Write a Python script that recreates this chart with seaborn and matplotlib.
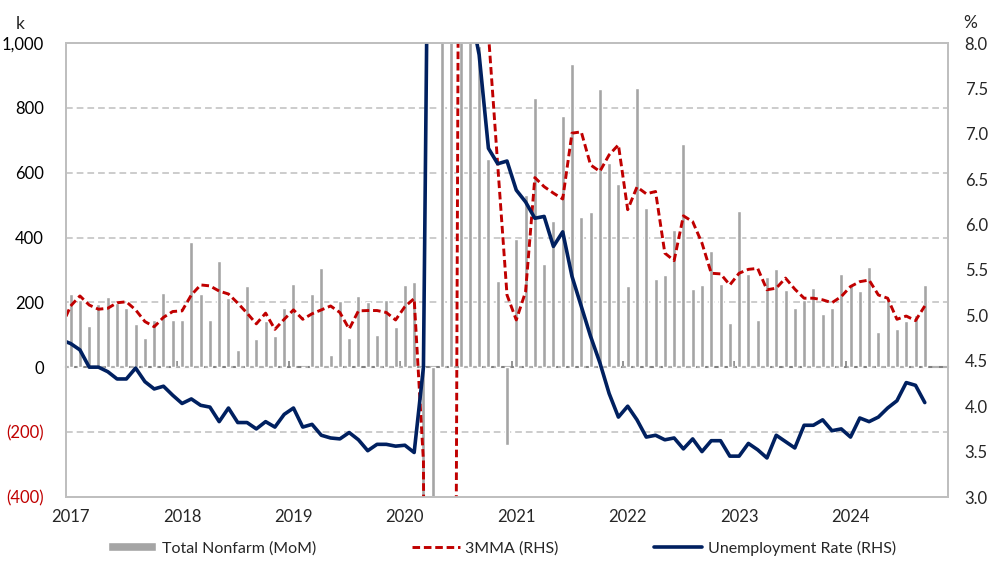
import matplotlib
matplotlib.use("Agg")
import numpy as np
import pandas as pd
import matplotlib.pyplot as plt
import seaborn as sns

# monthly data, Jan 2017 - Sep 2024 (bars) ; lines start one month earlier (Dec 2016)
nfp = [226, 208, 127, 195, 217, 199, 183, 134, 90, 146, 229, 146,
       146, 387, 226, 146, 328, 214, 53, 251, 87, 143, 97, 183,
       257, 1, 226, 307, 38, 205, 90, 220, 202, 100, 208, 124,
       254, 263, -1373, -20500, 2800, 4500, 1700, 1500, 990, 643, 266, -240,
       396, 530, 830, 320, 451, 776, 936, 464, 479, 858, 630, 566,
       251, 861, 492, 271, 284, 422, 689, 242, 254, 359, 257, 137,
       482, 288, 146, 279, 303, 239, 183, 208, 245, 165, 183, 288,
       257, 236, 310, 109, 215, 118, 143, 160, 254]

mma3 = [125,
        189, 220, 192, 179, 182, 199, 202, 177, 141, 125, 154, 172,
        174, 223, 254, 251, 235, 226, 198, 167, 134, 167, 117, 148,
        177, 148, 165, 177, 189, 169, 118, 174, 175, 175, 169, 146,
        187, 212, -290, -7200, -6360, -4400, 3000, 2570, 1390, 1030, 624, 223,
        146, 233, 585, 557, 537, 519, 722, 726, 624, 604, 655, 686,
        486, 556, 535, 542, 352, 329, 467, 449, 383, 290, 288, 254,
        290, 302, 305, 239, 244, 275, 241, 213, 213, 208, 199, 218,
        249, 264, 269, 223, 213, 148, 158, 144, 189]

unemp = [4.73,
         4.69, 4.62, 4.43, 4.43, 4.38, 4.30, 4.30, 4.42, 4.27, 4.19, 4.22, 4.12,
         4.03, 4.08, 4.01, 3.99, 3.83, 3.98, 3.82, 3.82, 3.75, 3.83, 3.77, 3.91,
         3.98, 3.77, 3.80, 3.68, 3.65, 3.64, 3.71, 3.63, 3.51, 3.58, 3.58, 3.56,
         3.57, 3.49, 4.43, 14.8, 13.2, 11.0, 10.2, 8.4, 7.87, 6.84, 6.67, 6.70,
         6.38, 6.25, 6.07, 6.09, 5.76, 5.92, 5.43, 5.10, 4.77, 4.48, 4.14, 3.88,
         4.00, 3.85, 3.66, 3.68, 3.63, 3.65, 3.53, 3.64, 3.50, 3.62, 3.62, 3.45,
         3.45, 3.59, 3.52, 3.43, 3.68, 3.61, 3.54, 3.79, 3.79, 3.85, 3.73, 3.75,
         3.66, 3.87, 3.83, 3.88, 3.98, 4.06, 4.26, 4.23, 4.04]

years = ["2017", "2018", "2019", "2020", "2021", "2022", "2023", "2024"]
left_ticks = [-400, -200, 0, 200, 400, 600, 800, 1000]
left_labels = ["(400)", "(200)", "0", "200", "400", "600", "800", "1,000"]
right_ticks = [3.0, 3.5, 4.0, 4.5, 5.0, 5.5, 6.0, 6.5, 7.0, 7.5, 8.0]
series_names = ["Total Nonfarm (MoM)", "3MMA (RHS)", "Unemployment Rate (RHS)"]

n_slots = 95  # Jan 2017 - Nov 2024 on the axis

bar_df = pd.DataFrame({"idx": np.arange(len(nfp)), "nfp": nfp})
line_idx = np.arange(-1, len(nfp))

GREY = "#A5A5A5"
RED = "#C00000"
NAVY = "#002060"
FRAME = "#BFBFBF"

sns.set_style("white")
plt.rcParams["font.family"] = ["Lato", "DejaVu Sans"]

fig = plt.figure(figsize=(9.94, 5.70), dpi=100)
ax = fig.add_subplot(111)
fig.subplots_adjust(left=66 / 994, right=948 / 994, top=1 - 43 / 570, bottom=1 - 497 / 570)

sns.barplot(data=bar_df, x="idx", y="nfp", ax=ax, color=GREY, saturation=1,
            width=0.43, label=series_names[0], legend=False, zorder=2)
sns.lineplot(x=line_idx, y=mma3, ax=ax, color=RED, lw=2.1,
             linestyle=(0, (2.6, 1.3)), label=series_names[1], legend=False, zorder=3)

ax.set_xlim(-0.5, n_slots - 0.5)
ax.set_ylim(-400, 1000)
ax.set_yticks(left_ticks)
ax.set_yticklabels(left_labels)
for lab, v in zip(ax.get_yticklabels(), left_ticks):
    lab.set_color(RED if v < 0 else "black")
ax.set_xticks(np.arange(len(years)) * 12)
ax.set_xticklabels(years)
ax.set_xlabel("")
ax.set_ylabel("")
ax.tick_params(axis="x", length=0, pad=9, labelsize=12)
ax.tick_params(axis="y", length=0, pad=16, labelsize=12)
ax.grid(axis="y", color=FRAME, lw=1.1, ls=(0, (4.4, 2.6)), zorder=0)
ax.grid(axis="x", visible=False)
ax.set_axisbelow(True)
for sp in ax.spines.values():
    sp.set_color(FRAME)
    sp.set_linewidth(1.3)

# zero line with year tick marks
zero = ax.secondary_xaxis(0, transform=ax.transData)
zero.set_xticks(np.arange(-0.5, n_slots, 12))
zero.tick_params(direction="in", length=4, width=1.2, color="#808080", labelbottom=False)
zero.spines["bottom"].set_color("#808080")
zero.spines["bottom"].set_linewidth(1.5)

ax2 = ax.twinx()
sns.lineplot(x=line_idx, y=unemp, ax=ax2, color=NAVY, lw=2.6,
             label=series_names[2], legend=False)
ax2.set_ylim(3, 8)
ax2.set_yticks(right_ticks)
ax2.set_yticklabels([f"{t:.1f}" for t in right_ticks])
ax2.set_ylabel("")
ax2.tick_params(axis="y", length=0, pad=12, labelsize=12)
ax2.grid(False)
for sp in ax2.spines.values():
    sp.set_color(FRAME)
    sp.set_linewidth(1.3)
ax2.set_xlim(-0.5, n_slots - 0.5)

fig.text(20 / 994, 1 - 24 / 570, "k", ha="center", va="center", fontsize=12.5)
fig.text(970 / 994, 1 - 23 / 570, "%", ha="center", va="center", fontsize=12.5)

h1, l1 = ax.get_legend_handles_labels()
h2, l2 = ax2.get_legend_handles_labels()
found = dict(zip(l1 + l2, h1 + h2))
fig.legend([found[n] for n in series_names], series_names, loc="center",
           bbox_to_anchor=(0.505, 1 - 548 / 570), ncol=3, frameon=False,
           fontsize=11.5, handlelength=3.0, handleheight=0.5,
           handletextpad=0.35, columnspacing=6.0)

fig.savefig("out.png", dpi=100)
